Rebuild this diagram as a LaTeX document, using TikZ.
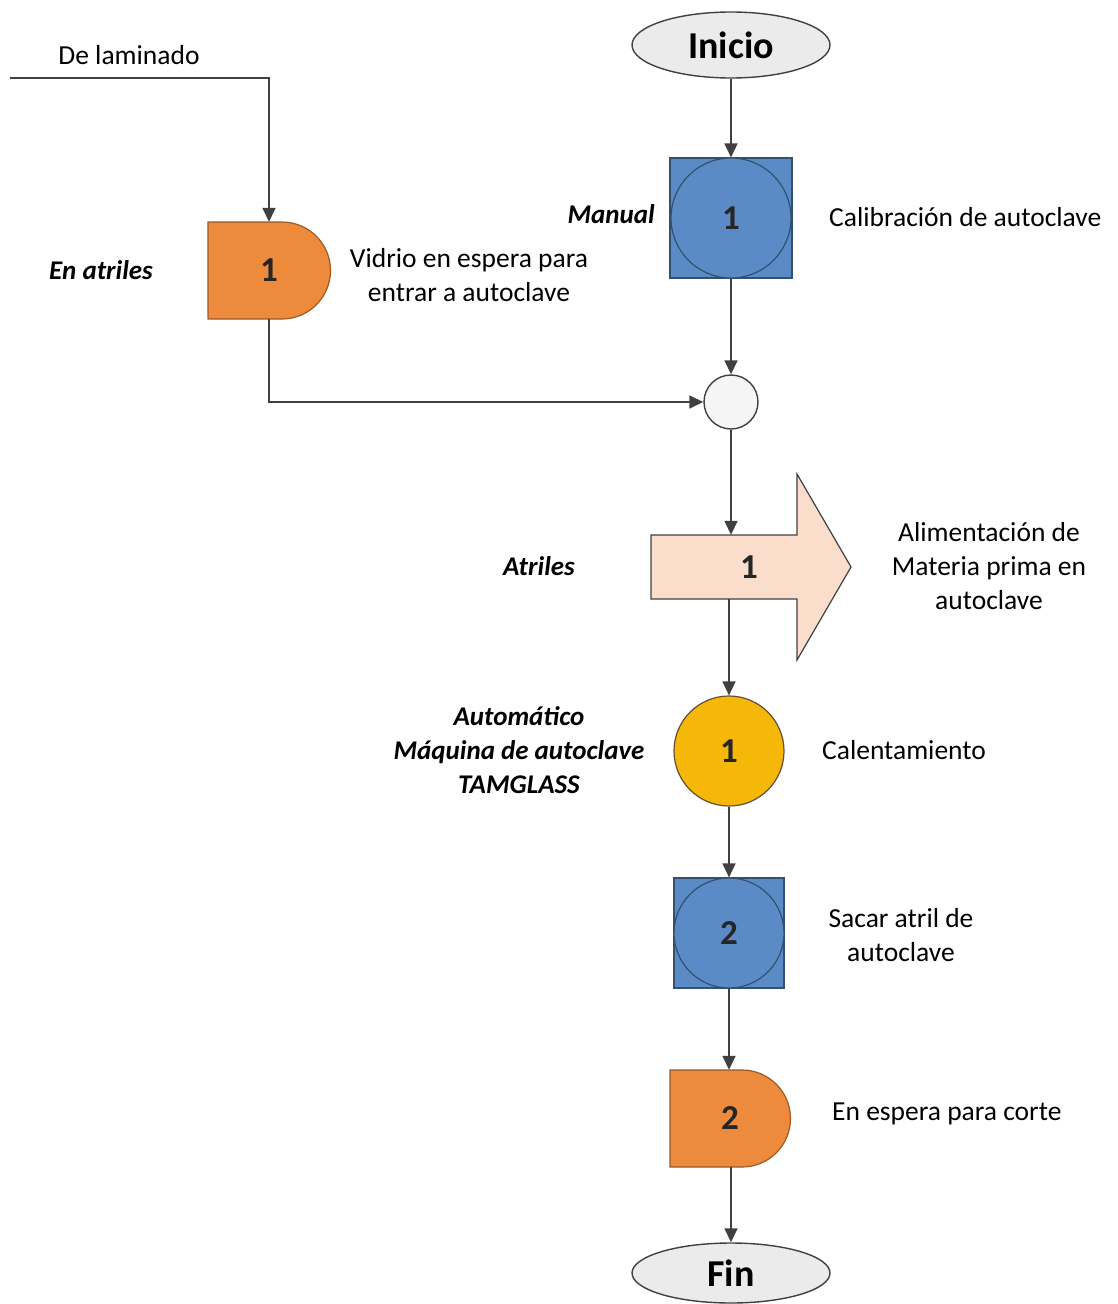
\documentclass[tikz,border=0pt]{standalone}
\usepackage{fontspec}
\setmainfont{Carlito}
\usetikzlibrary{shapes.geometric,arrows.meta,calc}
\definecolor{lineC}{HTML}{404040}
\definecolor{blueF}{HTML}{5B8BC7}
\definecolor{blueD}{HTML}{34506F}
\definecolor{orangeF}{HTML}{EE8A3C}
\definecolor{orangeD}{HTML}{9A5A2A}
\definecolor{peachF}{HTML}{FBDDCB}
\definecolor{yellowF}{HTML}{F5B808}
\definecolor{grayF}{HTML}{EBEBEB}
\tikzset{
  txt/.style={font=\fontsize{27.5}{34}\selectfont, inner sep=0pt},
  btxt/.style={font=\fontsize{27}{34}\selectfont\bfseries\itshape, inner sep=0pt},
  num/.style={font=\fontsize{35}{40}\selectfont\bfseries, text=black!85},
  term/.style={ellipse, draw=lineC, line width=1.4pt, fill=grayF, inner sep=0pt,
    font=\fontsize{38}{44}\selectfont\bfseries},
  opbox/.style={rectangle, draw=blueD, line width=1.2pt, fill=blueF, inner sep=0pt},
  opcirc/.style={circle, draw=blueD, line width=1.2pt, fill=blueF, inner sep=0pt},
  flow/.style={draw=lineC, line width=1.6pt, -{Triangle[width=13pt,length=14pt]}},
}
\begin{document}
\begin{tikzpicture}[x=1pt,y=-1pt]
\useasboundingbox[fill=white] (0,0) rectangle (1117,1304);

% Terminals
\node[term, minimum width=198, minimum height=66] (ini) at (731,45) {Inicio};
\node[term, minimum width=198, minimum height=60] (fin) at (731,1273) {Fin};

% Operation-inspection 1
\node[opbox, minimum width=122, minimum height=120] (s1) at (731,218) {};
\node[opcirc, minimum size=120] (c1) at (731,218) {};
\node[num] at (c1) {1};

% Delay 1
\node[inner sep=0, minimum width=122, minimum height=97] (d1) at (269,270.5) {};
\fill[orangeF, draw=orangeD, line width=1.2pt]
  (208,222) -- (282,222) arc[start angle=-90, end angle=90, radius=48.5] -- (208,319) -- cycle;
\node[num] at (d1) {1};

% Junction
\node[circle, draw=lineC, line width=1.4pt, fill=white!92!gray, minimum size=54, inner sep=0] (j) at (731,402) {};

% Transport arrow
\node[inner sep=0, minimum width=146, minimum height=64] (t1) at (724,567) {};
\fill[peachF, draw=lineC, line width=1.2pt]
  (651,535) -- (797,535) -- (797,474) -- (851,567) -- (797,660) -- (797,599) -- (651,599) -- cycle;
\node[num] at (749,567) {1};

% Operation 1 (yellow)
\node[circle, draw=lineC!80!orange, line width=1.2pt, fill=yellowF, minimum size=110, inner sep=0] (o1) at (729,751) {};
\node[num] at (o1) {1};

% Operation-inspection 2
\node[opbox, minimum width=110, minimum height=110] (s2) at (729,933) {};
\node[opcirc, minimum size=110] (c2) at (729,933) {};
\node[num] at (c2) {2};

% Delay 2
\node[inner sep=0, minimum width=120, minimum height=97] (d2) at (730,1118.5) {};
\fill[orangeF, draw=orangeD, line width=1.2pt]
  (670,1070) -- (742,1070) arc[start angle=-90, end angle=90, radius=48.5] -- (670,1167) -- cycle;
\node[num] at (d2) {2};

% Connectors
\coordinate (lamstart) at (10,78);
\draw[flow] (lamstart) -| (d1.north);
\draw[flow] (ini.south) -- (s1.north);
\draw[flow] (s1.south) -- (j.north);
\draw[flow] (d1.south) |- (j.west);
\draw[flow] (j.south) -- (j.south |- t1.north);
\draw[flow] (o1.north |- t1.south) -- (o1.north);
\draw[flow] (o1.south) -- (s2.north);
\draw[flow] (s2.south) -- (s2.south |- d2.north);
\draw[flow] (fin.north |- d2.south) -- (fin.north);

% Labels
\node[txt] (lam) at (129,55) {De laminado};
\node[btxt, anchor=east] (lman) at (655,214) {Manual};
\node[txt, anchor=west] (lcal) at (829,217) {Calibración de autoclave};
\node[btxt] (latr) at (101,270) {En atriles};
\node[txt, align=center] (lvid) at (469,275) {Vidrio en espera para\\entrar a autoclave};
\node[btxt] (latr2) at (539,566) {Atriles};
\node[txt, align=center] (lali) at (989,566) {Alimentación de\\Materia prima en\\autoclave};
\node[btxt, align=center] (laut) at (519,750) {Automático\\Máquina de autoclave\\TAMGLASS};
\node[txt, anchor=west] (lcalen) at (822,750) {Calentamiento};
\node[txt, align=center] (lsac) at (901,935) {Sacar atril de\\autoclave};
\node[txt, anchor=west] (lesp) at (832,1114) {En espera para corte};
\end{tikzpicture}
\end{document}
